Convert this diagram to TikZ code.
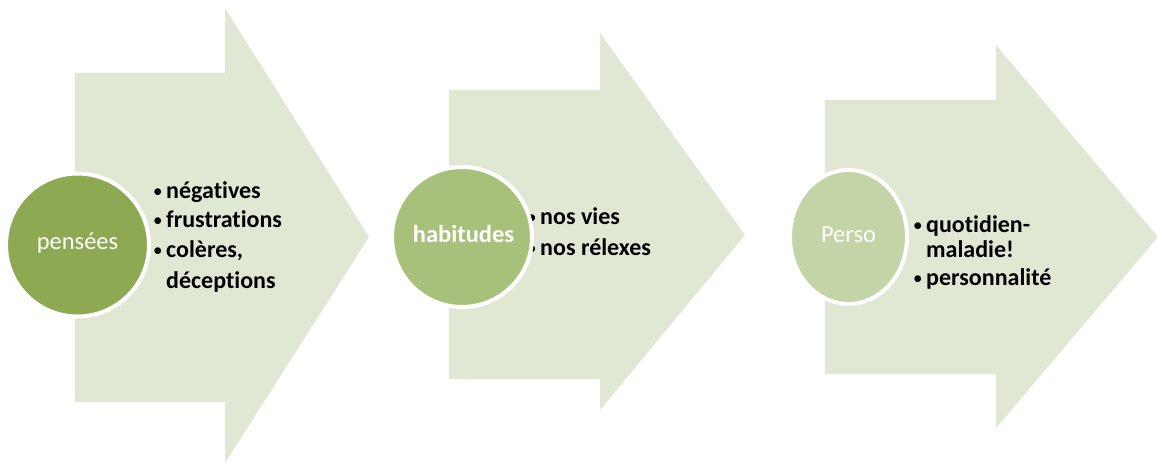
\documentclass[tikz,border=0pt]{standalone}
\usepackage{fontspec}
\setmainfont{Carlito}[Ligatures={NoCommon,NoContextual}]
\usetikzlibrary{shapes.geometric}
\definecolor{arrowfill}{HTML}{E0E8D4}
\definecolor{cone}{HTML}{8DAA52}
\definecolor{ctwo}{HTML}{A8C17A}
\definecolor{cthree}{HTML}{C3D4A6}
\tikzset{
  arrowshape/.style={fill=arrowfill, draw=none},
  bubble/.style={circle, draw=white, line width=4pt, inner sep=0pt},
  oval/.style={ellipse, draw=white, line width=4pt, inner sep=0pt},
  lbl/.style={text=white, inner sep=0pt, anchor=base, font=\fontsize{24.5}{29}\selectfont},
  item/.style={text=black, inner sep=0pt, anchor=base west, font=\bfseries\fontsize{24}{29}\selectfont},
}
\newcommand{\bul}{\makebox[13pt][l]{\raisebox{1pt}{\mdseries\fontsize{19}{19}\selectfont •}}}
\begin{document}
\begin{tikzpicture}[x=1pt,y=-1pt]
\useasboundingbox (0,0) rectangle (1157,465);
\begin{scope}
\clip (0,0) rectangle (1157,465);
% arrows
\fill[arrowshape] (75,73) -- (225,73) -- (225,8) -- (369,237) -- (225,463) -- (225,402) -- (75,402) -- cycle;
\fill[arrowshape] (449,90) -- (600,90) -- (600,33) -- (745,235) -- (600,410) -- (600,379) -- (449,379) -- cycle;
\fill[arrowshape] (825,100) -- (996,100) -- (996,45) -- (1158,237) -- (996,428) -- (996,374) -- (825,374) -- cycle;
\end{scope}
% lists
\node[item] (a1) at (153,199) {\bul négatives};
\node[item] (a2) at (153,228) {\bul frustrations};
\node[item] (a3) at (153,258) {\bul colères,};
\node[item] (a4) at (166,288) {déceptions};
\node[item] (b1) at (527,225) {\bul nos vies};
\node[item] (b2) at (527,255) {\bul nos rélexes};
\node[item] (c1) at (913,233) {\bul quotidien-};
\node[item] (c2) at (926,258) {maladie!};
\node[item] (c3) at (913,285) {\bul personnalité};
% circles
\node[bubble, fill=cone, minimum size=143pt] (k1) at (77.5,245) {};
\node[bubble, fill=ctwo, minimum size=140pt] (k2) at (462,237) {};
\node[oval, fill=cthree, minimum width=117pt, minimum height=134pt] (k3) at (848.5,237) {};
% labels
\node[lbl] (t1) at (77.5,250) {pensées};
\node[lbl, font=\bfseries\fontsize{24.5}{29}\selectfont] (t2) at (463.5,243) {habitudes};
\node[lbl] (t3) at (848.5,243) {Perso};
\end{tikzpicture}
\end{document}
